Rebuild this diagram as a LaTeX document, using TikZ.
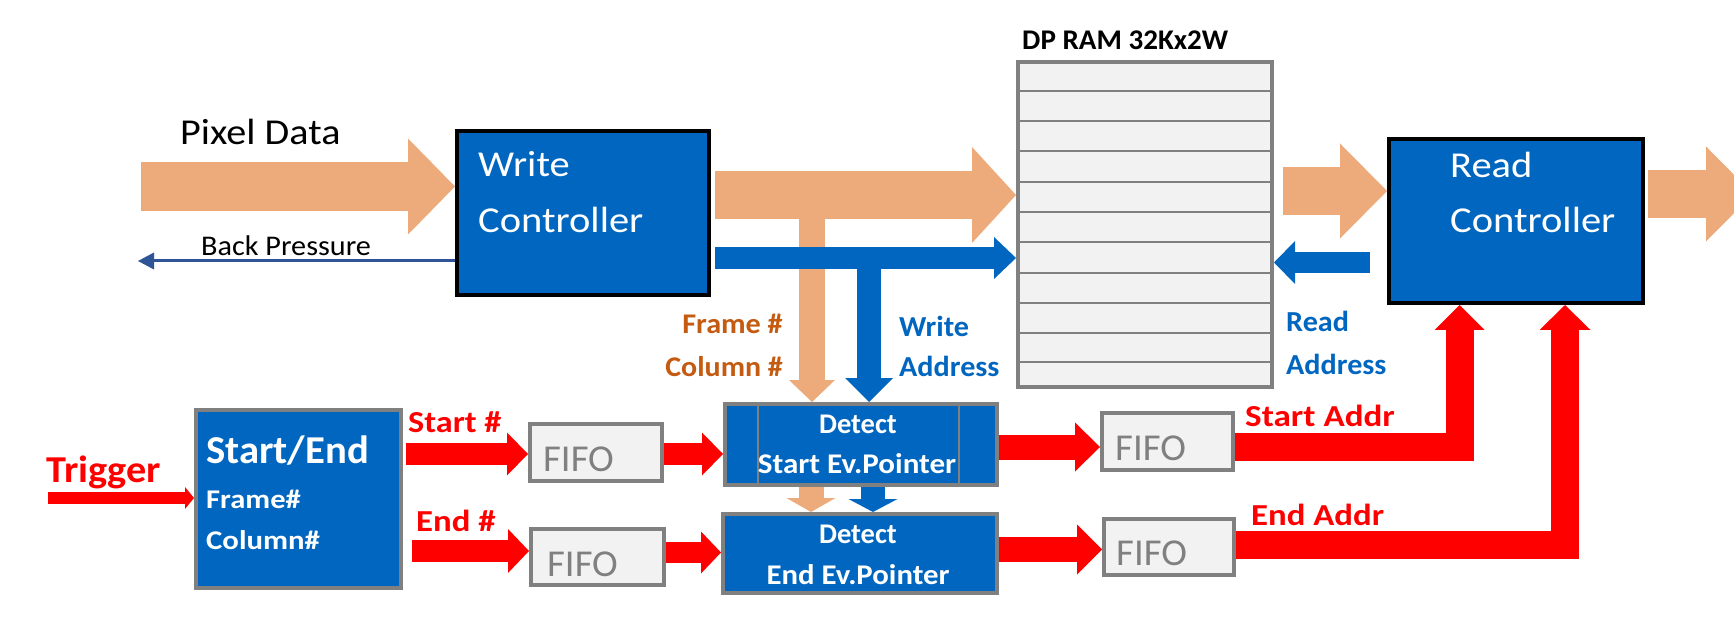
\documentclass[tikz,border=0pt]{standalone}
\usepackage{fontspec}
\setmainfont{Carlito}
\usetikzlibrary{arrows.meta}
\definecolor{org}{RGB}{237,170,123}
\definecolor{blu}{RGB}{0,102,192}
\definecolor{dblu}{RGB}{47,85,151}
\definecolor{brn}{RGB}{197,90,17}
\definecolor{gry}{RGB}{128,128,128}
\definecolor{lgry}{RGB}{242,242,242}
\definecolor{rd}{RGB}{255,0,0}
\newcommand\fsz[1]{\fontsize{#1}{#1}\selectfont}
\newcommand\hs[2]{\scalebox{#1}[1]{#2}}
\tikzset{
  ctrlbox/.style={draw=black,line width=4pt,fill=blu,inner sep=0pt},
  graybox/.style={draw=gry,line width=4pt,fill=blu,inner sep=0pt},
  fifobox/.style={draw=gry,line width=4pt,fill=lgry,inner sep=0pt},
  txt/.style={inner sep=0pt,anchor=base west},
  wtxt/.style={txt,text=white,font=\fsz{36.5}},
  fifotxt/.style={txt,text=gry,font=\fsz{38}},
  dettxt/.style={inner sep=0pt,anchor=base,text=white,font=\bfseries\fsz{28.5}},
  redtxt/.style={txt,text=rd,font=\bfseries\fsz{30.5}},
  blutxt/.style={txt,text=blu,font=\bfseries\fsz{29}},
  brntxt/.style={inner sep=0pt,anchor=base east,text=brn,font=\bfseries\fsz{28.5}},
  blk/.style n args={4}{draw=#1,line width=#2,line cap=butt,line join=miter,
     -{Triangle[length=#3,width=#4,line width=0pt]}},
}
\begin{document}
\begin{tikzpicture}[x=1pt,y=-1pt]
\clip (0,0) rectangle (1734,617);
\fill[white] (0,0) rectangle (1734,617);

% boxes
\node[ctrlbox,minimum width=252pt,minimum height=164pt] (wc) at (583,213) {};
\node[ctrlbox,minimum width=254pt,minimum height=164pt] (rc) at (1516,221) {};
\node[draw=gry,line width=4pt,fill=lgry,inner sep=0pt,minimum width=254pt,minimum height=325pt] (ram) at (1145,224.5) {};
\node[graybox,minimum width=205pt,minimum height=178pt] (se) at (298.5,499) {};
\node[fifobox,minimum width=132pt,minimum height=57pt] (f1) at (596,452.5) {};
\node[fifobox,minimum width=133pt,minimum height=56pt] (f2) at (597.5,557) {};
\node[fifobox,minimum width=131pt,minimum height=57pt] (f3) at (1167.5,441.5) {};
\node[fifobox,minimum width=130pt,minimum height=56pt] (f4) at (1169,547) {};
\node[graybox,minimum width=272pt,minimum height=81pt] (ds) at (861,444.5) {};
\node[graybox,minimum width=274pt,minimum height=79pt] (de) at (860,553.5) {};

% RAM rows
\foreach \yy in {91,121,151,182,212,242,273,303,333,362}
  \draw[gry,line width=2pt] (ram.west |- 0,\yy) -- (ram.east |- 0,\yy);
% detect-start inner lines
\draw[gry,line width=1.5pt] (758,0 |- ds.north) -- (758,0 |- ds.south);
\draw[gry,line width=1.5pt] (959,0 |- ds.north) -- (959,0 |- ds.south);

% orange data arrows
\draw[blk={org}{49pt}{47pt}{96pt}] (141,186.5) -- (wc.west |- 0,186.5);
\draw[blk={org}{48pt}{44pt}{96pt}] (wc.east |- 0,195) ++(4,0) coordinate (o1) -- (ram.west |- 0,195);
\draw[blk={org}{26pt}{22pt}{46pt}] (812,200) -- (812,0 |- ds.north);
\draw[blk={org}{48pt}{47pt}{95pt}] (ram.east |- 0,191) ++(9,0) coordinate (o2) -- (rc.west |- 0,191);
\draw[blk={org}{48pt}{47pt}{95pt}] (rc.east |- 0,194) ++(3,0) coordinate (o3) -- (1753,194);
\draw[blk={org}{25pt}{14pt}{49pt}] (811,0 |- ds.south) -- (811,0 |- de.north);

% blue address arrows
\draw[blk={blu}{22pt}{22pt}{42pt}] (wc.east |- 0,258) ++(4,0) coordinate (b1) -- (ram.west |- 0,258);
\draw[blk={blu}{24pt}{24pt}{48pt}] (869,250) -- (869,0 |- ds.north);
\draw[blk={blu}{21pt}{21pt}{43pt}] (rc.west |- 0,262.5) ++(-17,0) coordinate (b2) -- (ram.east |- 0,262.5);
\draw[blk={blu}{24pt}{13pt}{49pt}] (873,0 |- ds.south) -- (873,0 |- de.north);

% back pressure
\draw[dblu,line width=3pt,-{Triangle[length=16pt,width=17pt,line width=0pt]}] (wc.west |- 0,261) -- (138,261);

% red arrows
\draw[blk={rd}{12pt}{9pt}{22pt}] (48,498) -- (se.west |- 0,498);
\draw[blk={rd}{22pt}{21pt}{43pt}] (se.east |- 0,454) ++(3,0) coordinate (r1) -- (f1.west |- 0,454);
\draw[blk={rd}{22pt}{21pt}{44pt}] (se.east |- 0,551) ++(9,0) coordinate (r2) -- (f2.west |- 0,551);
\draw[blk={rd}{22pt}{21pt}{43pt}] (f1.east |- 0,454) -- (ds.west |- 0,454);
\draw[blk={rd}{21pt}{20pt}{42pt}] (f2.east |- 0,552.5) -- (de.west |- 0,552.5);
\draw[blk={rd}{25pt}{25pt}{49pt}] (ds.east |- 0,447) -- (f3.west |- 0,447);
\draw[blk={rd}{25pt}{25pt}{50pt}] (de.east |- 0,549.5) -- (f4.west |- 0,549.5);
\draw[blk={rd}{28pt}{25pt}{50pt}] (f3.east |- 0,446.5) -| (1459.5,0 |- rc.south);
\draw[blk={rd}{28pt}{25pt}{51pt}] (f4.east |- 0,545) -| (1565,0 |- rc.south);

% texts
\node[txt,font=\fsz{36.5}] (tpix) at (180,145) {\hs{1.10}{Pixel Data}};
\node[txt,font=\fsz{28.5}] (tbp) at (201,255.5) {\hs{1.06}{Back Pressure}};
\node[wtxt] (twc1) at (478,176.5) {\hs{1.11}{Write}};
\node[wtxt] (twc2) at (478,232.5) {\hs{1.11}{Controller}};
\node[wtxt] (trc1) at (1450,178) {\hs{1.11}{Read}};
\node[wtxt] (trc2) at (1450,233) {\hs{1.11}{Controller}};
\node[txt,font=\bfseries\fsz{28.5}] (tram) at (1022,50) {\hs{1.02}{DP RAM 32Kx2W}};
\node[brntxt] (tfr) at (783,334) {\hs{1.06}{Frame \#}};
\node[brntxt] (tco) at (783,376) {\hs{1.05}{Column \#}};
\node[blutxt] (twa1) at (899,337) {\hs{1.04}{Write}};
\node[blutxt] (twa2) at (899,377) {\hs{1.04}{Address}};
\node[blutxt] (tra1) at (1286,332) {\hs{1.04}{Read}};
\node[blutxt] (tra2) at (1286,374) {\hs{1.04}{Address}};
\node[txt,text=white,font=\bfseries\fsz{39.5}] (tse1) at (206,463) {\hs{1.03}{Start/End}};
\node[txt,text=white,font=\bfseries\fsz{27}] (tse2) at (206,508) {\hs{1.13}{Frame\#}};
\node[txt,text=white,font=\bfseries\fsz{27}] (tse3) at (206,549) {\hs{1.14}{Column\#}};
\node[txt,text=rd,font=\bfseries\fsz{38}] (ttr) at (46,482) {\hs{1.06}{Trigger}};
\node[redtxt] (tsn) at (408,432) {\hs{1.12}{Start \#}};
\node[redtxt] (ten) at (416,531) {\hs{1.14}{End \#}};
\node[redtxt] (tsa) at (1245,426) {\hs{1.15}{Start Addr}};
\node[redtxt] (tea) at (1251,525) {\hs{1.14}{End Addr}};
\node[fifotxt] (tf1) at (543,471) {\hs{1.02}{FIFO}};
\node[fifotxt] (tf2) at (547,576) {\hs{1.02}{FIFO}};
\node[fifotxt] (tf3) at (1115,460) {\hs{1.02}{FIFO}};
\node[fifotxt] (tf4) at (1116,565) {\hs{1.02}{FIFO}};
\node[dettxt] (td1) at (858,433) {Detect};
\node[dettxt] (td2) at (857,473) {\hs{1.09}{Start Ev.Pointer}};
\node[dettxt] (td3) at (858,543) {Detect};
\node[dettxt] (td4) at (858,584) {\hs{1.08}{End Ev.Pointer}};
\end{tikzpicture}
\end{document}
